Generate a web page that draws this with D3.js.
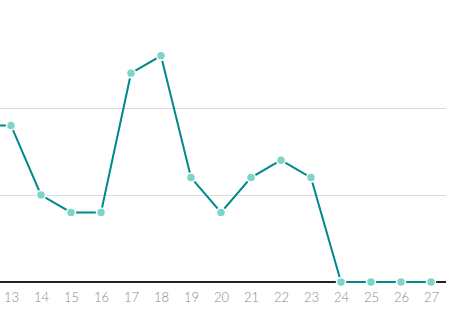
<!DOCTYPE html>
<html>
<head>
<meta charset="utf-8">
<script src="https://cdnjs.cloudflare.com/ajax/libs/d3/7.8.5/d3.min.js"></script>
<style>
  body { margin: 0; background: #fff; }
  .axis text { font-family: Lato, "Open Sans", sans-serif; font-weight: 300; font-size: 13px; fill: #8a8a8a; }
</style>
</head>
<body>
<script>
var days = [12, 13, 14, 15, 16, 17, 18, 19, 20, 21, 22, 23, 24, 25, 26, 27];
var counts = [9, 9, 5, 4, 4, 12, 13, 6, 4, 6, 7, 6, 0, 0, 0, 0];
var tickDays = [13, 14, 15, 16, 17, 18, 19, 20, 21, 22, 23, 24, 25, 26, 27];
var gridValues = [5, 10];

var w = 460, h = 325;
var svg = d3.select("body").append("svg")
  .attr("width", w)
  .attr("height", h);

var x = d3.scaleLinear().domain([13, 27]).range([11, 431]);
var y = d3.scaleLinear().domain([0, 15]).range([282, 21]);

var data = days.map(function(d, i) { return {day: d, value: counts[i]}; });

// gridlines
svg.selectAll("line.grid")
    .data(gridValues)
  .enter().append("line")
    .attr("class", "grid")
    .attr("x1", 0)
    .attr("x2", 446)
    .attr("y1", function(d) { return y(d) + 0.5; })
    .attr("y2", function(d) { return y(d) + 0.5; })
    .style("stroke", "#dcdcdc")
    .style("stroke-width", 1);

// baseline
svg.append("line")
  .attr("x1", 0)
  .attr("x2", 446)
  .attr("y1", y(0))
  .attr("y2", y(0))
  .style("stroke", "#222")
  .style("stroke-width", 2);

// x axis labels
var xAxis = d3.axisBottom(x)
  .tickValues(tickDays)
  .tickSize(0)
  .tickPadding(11)
  .tickFormat(d3.format("d"));
var gx = svg.append("g")
  .attr("class", "axis")
  .attr("transform", "translate(0," + y(0) + ")")
  .call(xAxis);
gx.select(".domain").remove();

// line
var line = d3.line()
  .x(function(d) { return x(d.day); })
  .y(function(d) { return y(d.value); });

svg.append("path")
  .datum(data)
  .attr("d", line)
  .style("fill", "none")
  .style("stroke", "#00888a")
  .style("stroke-width", 2);

// dots
svg.selectAll("circle")
    .data(data)
  .enter().append("circle")
    .attr("cx", function(d) { return x(d.day); })
    .attr("cy", function(d) { return y(d.value); })
    .attr("r", 4.5)
    .style("fill", "#7fd4c9")
    .style("stroke", "#fff")
    .style("stroke-width", 1.5);
</script>
</body>
</html>
